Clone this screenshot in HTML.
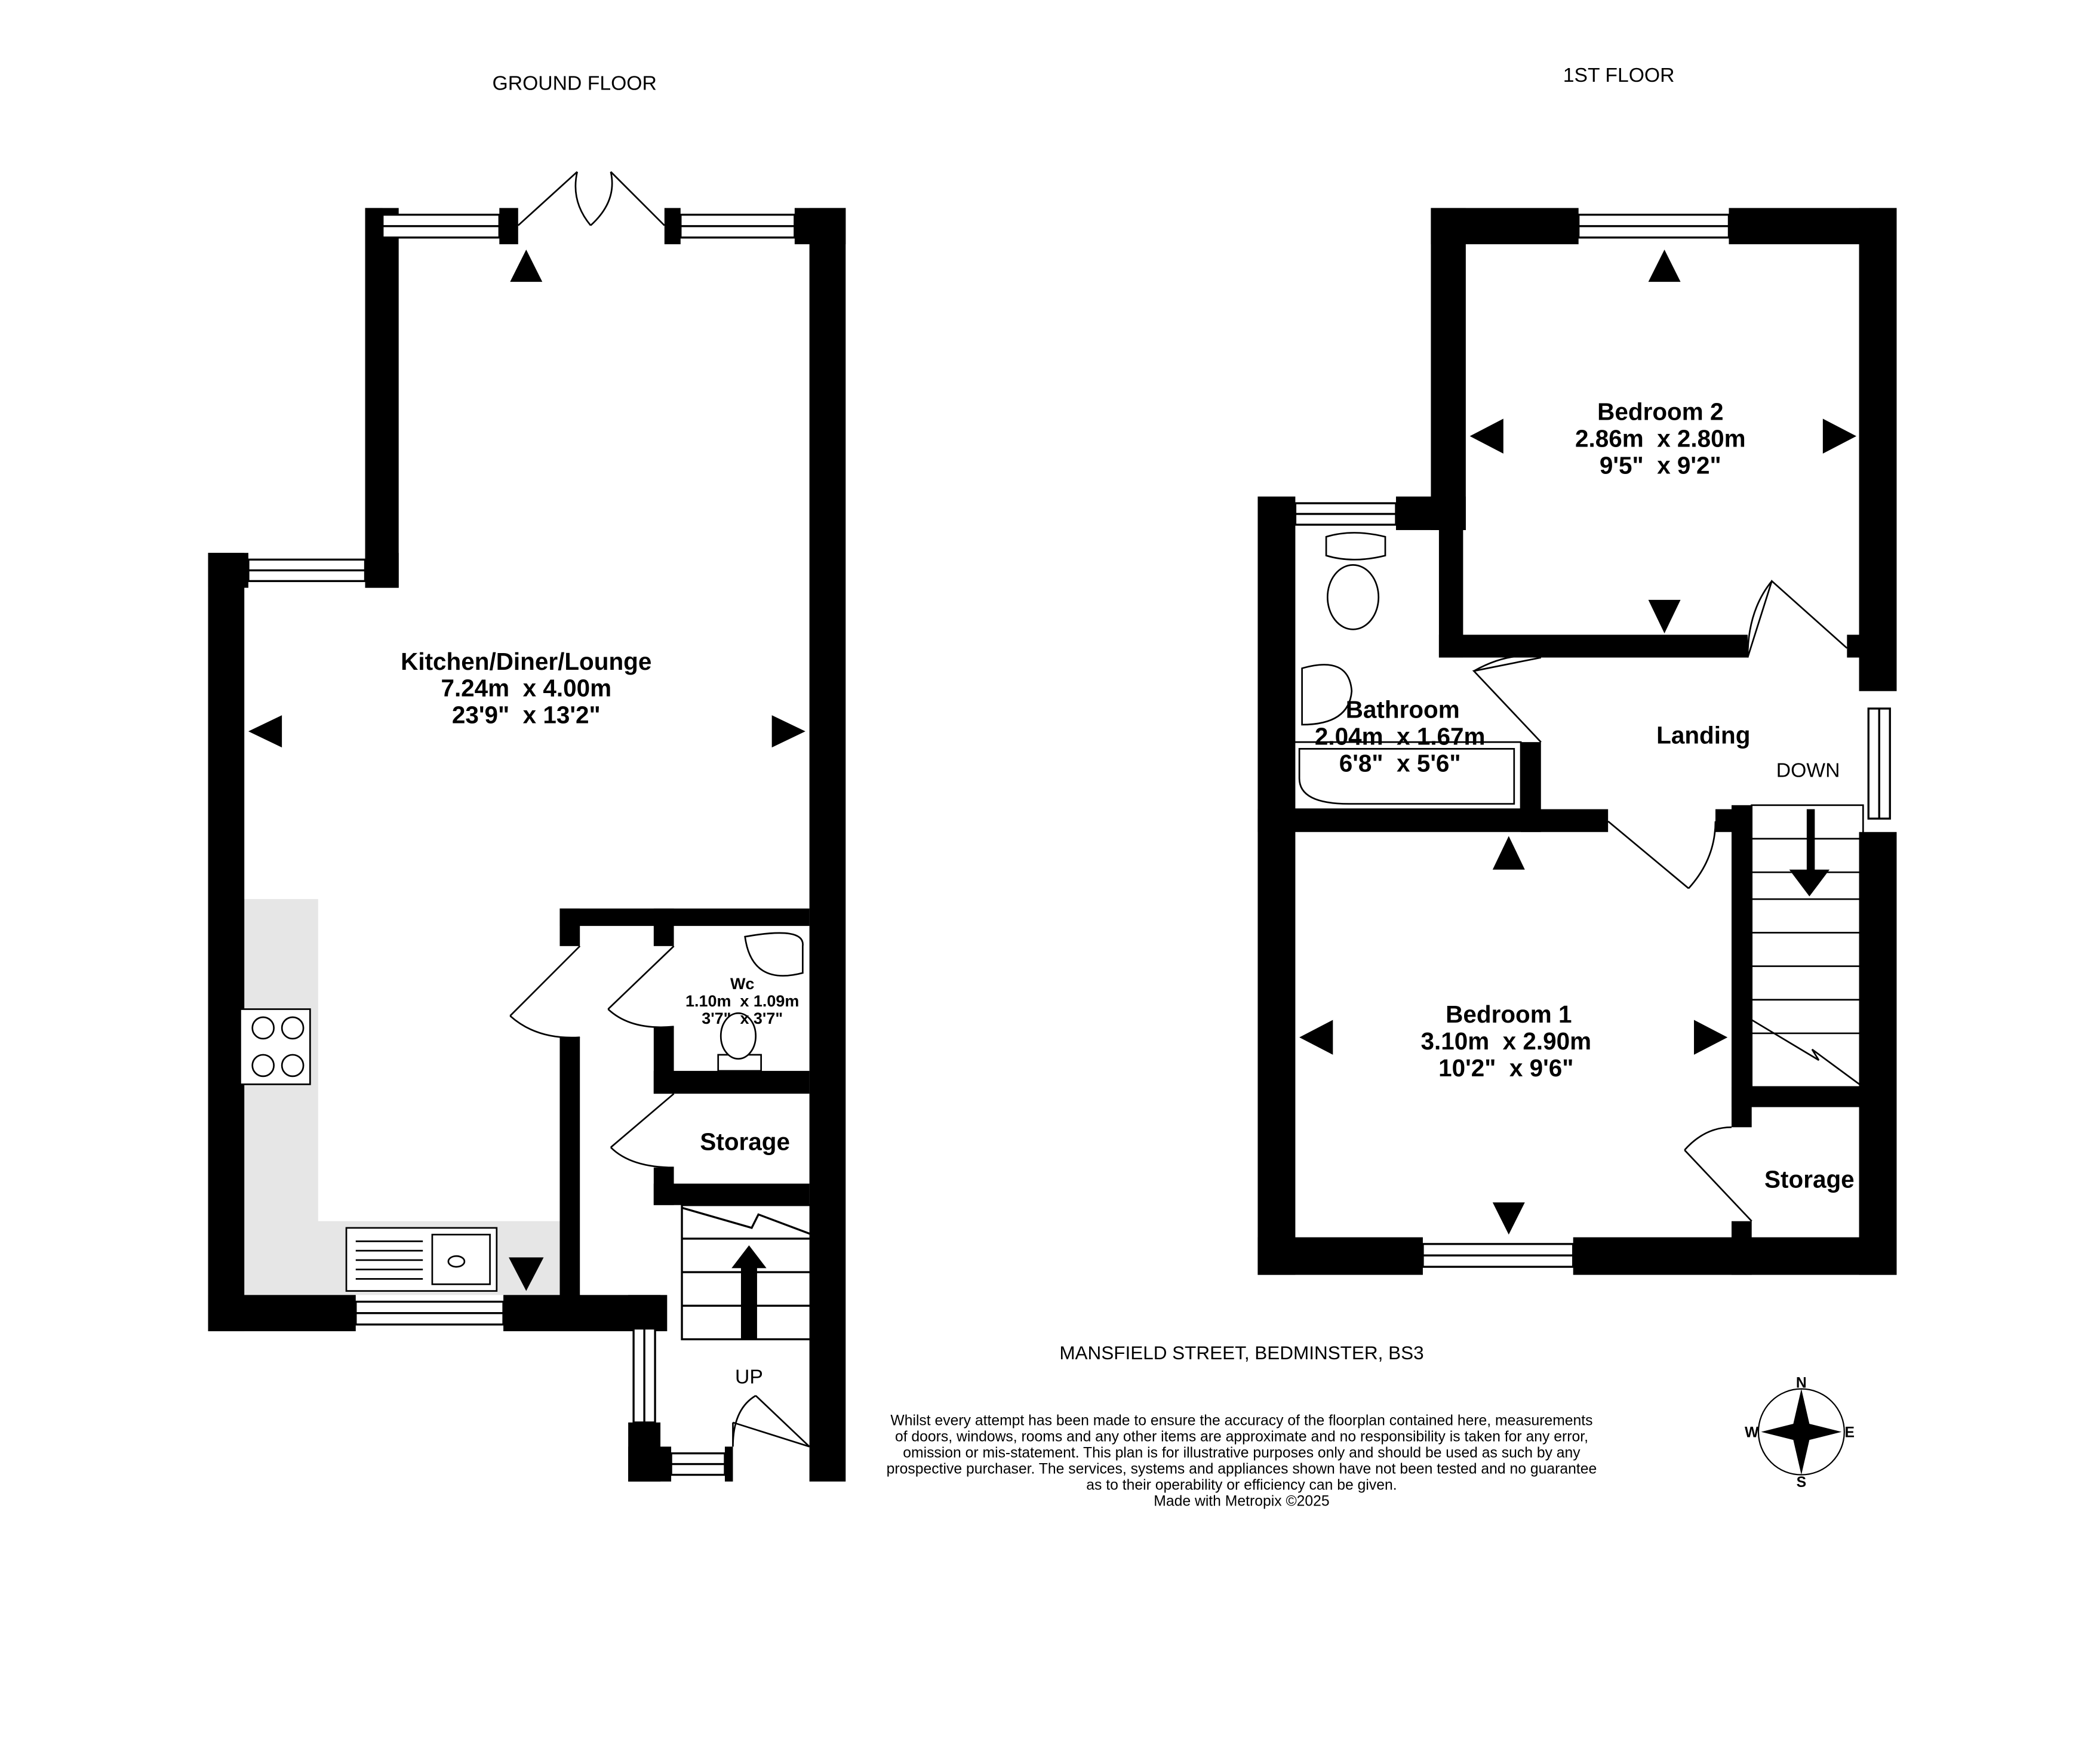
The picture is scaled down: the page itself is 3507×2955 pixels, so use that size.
<!DOCTYPE html>
<html><head><meta charset="utf-8"><style>
html,body{margin:0;padding:0;background:#fff}
svg{display:block}
text{font-family:"Liberation Sans",sans-serif;white-space:pre}
.l{font-weight:bold;font-size:18px;text-anchor:middle}
.s{font-size:15px;text-anchor:middle}
.d{font-size:11px;text-anchor:middle}
</style></head><body>
<svg width="3507" height="2955" viewBox="0 0 1560 1314.5" xmlns="http://www.w3.org/2000/svg" xml:space="preserve">
<rect width="1560" height="1314.5" fill="#fff"/>
<text x="428" y="67" class="s">GROUND FLOOR</text>
<text x="1206" y="61" class="s">1ST FLOOR</text>

<path d="M182 670H237V910H417V965H182Z" fill="#e6e6e6"/>
<g fill="#000">
<rect x="155" y="412" width="27" height="580"/>
<rect x="155" y="965" width="110" height="27"/>
<rect x="375" y="965" width="122" height="27"/>
<rect x="155" y="412" width="30" height="26"/>
<rect x="272" y="412" width="25" height="26"/>
<rect x="272" y="155" width="25" height="283"/>
<rect x="272" y="155" width="13" height="27"/>
<rect x="372" y="155" width="14" height="27"/>
<rect x="495" y="155" width="12" height="27"/>
<rect x="592" y="155" width="38" height="27"/>
<rect x="603" y="155" width="27" height="949"/>
<rect x="417" y="677" width="186" height="13"/>
<rect x="417" y="677" width="15" height="28"/>
<rect x="417" y="773" width="15" height="219"/>
<rect x="487" y="677" width="15" height="28"/>
<rect x="487" y="765" width="15" height="50"/>
<rect x="487" y="798" width="116" height="17"/>
<rect x="487" y="870" width="15" height="28"/>
<rect x="487" y="882" width="116" height="16"/>
<rect x="468" y="965" width="24" height="25"/>
<rect x="468" y="1060" width="24" height="44"/>
<rect x="468" y="1078" width="32" height="26"/>
<rect x="540" y="1078" width="6" height="26"/>
</g>
<g fill="#fff" stroke="#000" stroke-width="1.5">
<rect x="285" y="160" width="87" height="17"/><line x1="285" y1="168.5" x2="372" y2="168.5"/>
<rect x="507" y="160" width="85" height="17"/><line x1="507" y1="168.5" x2="592" y2="168.5"/>
<rect x="185" y="417" width="87" height="16"/><line x1="185" y1="425" x2="272" y2="425"/>
<rect x="265" y="970" width="110" height="17"/><line x1="265" y1="978.5" x2="375" y2="978.5"/>
<rect x="472" y="990" width="16" height="70"/><line x1="480" y1="990" x2="480" y2="1060"/>
<rect x="500" y="1083" width="40" height="16"/><line x1="500" y1="1091" x2="540" y2="1091"/>
</g>
<g fill="none" stroke="#000" stroke-width="1.2">
<path d="M386 168L430 128M430 128Q425 150 440 168"/>
<path d="M495 168L455 128M455 128Q460 150 440 168"/>
<path d="M432 705L380 757M380 757Q400 775 432 773"/>
<path d="M502 705L453 752M453 752Q470 768 502 765"/>
<path d="M502 815L455 855M455 855Q470 870 502 870"/>
<path d="M546 1078V1060M546 1060L603 1078M563 1040L603 1078M546 1078Q546 1050 563 1040"/>
</g>
<g fill="none" stroke="#000" stroke-width="1.5">
<rect x="508" y="898" width="97" height="100"/>
<line x1="508" y1="923" x2="605" y2="923"/><line x1="508" y1="948" x2="605" y2="948"/><line x1="508" y1="973" x2="605" y2="973"/>
<path d="M508 900L560 915L565 905L605 920"/>
</g>
<path d="M558 928L545 945H552V998H564V945H571Z" fill="#000"/>
<text x="558" y="1031" class="s">UP</text>
<g fill="#fff" stroke="#000" stroke-width="1.2">
<rect x="179" y="752" width="52" height="56"/>
<circle cx="196" cy="766" r="8"/><circle cx="218" cy="766" r="8"/><circle cx="196" cy="794" r="8"/><circle cx="218" cy="794" r="8"/>
<rect x="258" y="915" width="112" height="47"/>
<rect x="322" y="920" width="43" height="37"/>
<ellipse cx="340" cy="940" rx="6" ry="4"/>
<path d="M265 925H315M265 932H315M265 939H315M265 946H315M265 953H315"/>
<path d="M555 698Q600 690 598 705V725Q560 735 555 698Z"/>
<rect x="535" y="786" width="32" height="12"/>
<ellipse cx="550" cy="772" rx="13" ry="17"/>
</g>
<g fill="#000">
<path d="M380 210L392 186L404 210Z"/>
<path d="M210 533L185 545L210 557Z"/>
<path d="M575 533L600 545L575 557Z"/>
<path d="M379 937L392 962L405 937Z"/>
</g>
<text x="392" y="499" class="l">Kitchen/Diner/Lounge</text>
<text x="392" y="519" class="l">7.24m  x 4.00m</text>
<text x="392" y="539" class="l">23'9"  x 13'2"</text>
<text x="553" y="737" class="d" style="font-weight:bold;font-size:12px">Wc</text>
<text x="553" y="750" class="d" style="font-weight:bold;font-size:12px">1.10m  x 1.09m</text>
<text x="553" y="763" class="d" style="font-weight:bold;font-size:12px">3'7"  x 3'7"</text>
<text x="555" y="857" class="l">Storage</text>

<g fill="#000">
<rect x="1066" y="155" width="110" height="27"/>
<rect x="1288" y="155" width="125" height="27"/>
<rect x="1066" y="155" width="26" height="240"/>
<rect x="1385" y="155" width="28" height="360"/>
<rect x="1072" y="473" width="230" height="17"/>
<rect x="1072" y="395" width="18" height="95"/>
<rect x="1040" y="370" width="52" height="25"/>
<rect x="937" y="370" width="28" height="580"/>
<rect x="937" y="603" width="261" height="17"/>
<rect x="1278" y="603" width="27" height="17"/>
<rect x="1133" y="553" width="15" height="67"/>
<rect x="1385" y="620" width="28" height="330"/>
<rect x="1376" y="473" width="37" height="17"/>
<rect x="937" y="922" width="123" height="28"/>
<rect x="1172" y="922" width="241" height="28"/>
<rect x="1290" y="600" width="15" height="240"/>
<rect x="1290" y="810" width="100" height="15"/>
<rect x="1290" y="910" width="15" height="40"/>
</g>
<g fill="#fff" stroke="#000" stroke-width="1.5">
<rect x="1176" y="160" width="112" height="17"/><line x1="1176" y1="168.5" x2="1288" y2="168.5"/>
<rect x="965" y="375" width="75" height="16"/><line x1="965" y1="383" x2="1040" y2="383"/>
<rect x="1060" y="927" width="112" height="17"/><line x1="1060" y1="935.5" x2="1172" y2="935.5"/>
<rect x="1392" y="528" width="16" height="82"/><line x1="1400" y1="528" x2="1400" y2="610"/>
</g>
<g fill="none" stroke="#000" stroke-width="1.2">
<path d="M1302 490L1320 433L1376 483M1302 490Q1302 455 1320 433"/>
<path d="M1148 490L1098 500L1148 553M1098 500Q1125 485 1148 490"/>
<path d="M1198 612L1258 662M1258 662Q1278 640 1278 612"/>
<path d="M1305 910L1255 857M1255 857Q1270 840 1290 840"/>
<rect x="1305" y="600" width="83" height="210"/>
<path d="M1305 625H1388M1305 650H1388M1305 670H1388M1305 695H1388M1305 720H1388M1305 745H1388M1305 770H1388"/>
<path d="M1305 760L1355 790L1350 782L1388 810"/>
<path d="M963 553H1133V603H963Z"/>
<path d="M968 558H1128V599H1005Q968 599 968 580Z"/>
<ellipse cx="1008" cy="445" rx="19" ry="24"/>
<path d="M988 400Q1008 394 1032 400V414Q1008 420 988 414Z"/>
<path d="M970 498Q1005 488 1007 515Q1005 540 970 540Z"/>
</g>
<path d="M1346 603V648H1333L1348 668L1363 648H1352V603Z" fill="#000"/>
<g fill="#000">
<path d="M1228 210L1240 186L1252 210Z"/>
<path d="M1120 312L1095 325L1120 338Z"/>
<path d="M1358 312L1383 325L1358 338Z"/>
<path d="M1228 447L1240 472L1252 447Z"/>
<path d="M1112 648L1124 623L1136 648Z"/>
<path d="M993 760L968 773L993 786Z"/>
<path d="M1262 760L1287 773L1262 786Z"/>
<path d="M1112 896L1124 920L1136 896Z"/>
</g>
<text x="1237" y="313" class="l">Bedroom 2</text>
<text x="1237" y="333" class="l">2.86m  x 2.80m</text>
<text x="1237" y="353" class="l">9'5"  x 9'2"</text>
<text x="1045" y="535" class="l">Bathroom</text>
<text x="1043" y="555" class="l">2.04m  x 1.67m</text>
<text x="1043" y="575" class="l">6'8"  x 5'6"</text>
<text x="1269" y="554" class="l">Landing</text>
<text x="1347" y="579" class="s">DOWN</text>
<text x="1124" y="762" class="l">Bedroom 1</text>
<text x="1122" y="782" class="l">3.10m  x 2.90m</text>
<text x="1122" y="802" class="l">10'2"  x 9'6"</text>
<text x="1348" y="885" class="l">Storage</text>

<text x="925" y="1013" class="s" style="font-size:14px">MANSFIELD STREET, BEDMINSTER, BS3</text>
<g class="d">
<text x="925" y="1062">Whilst every attempt has been made to ensure the accuracy of the floorplan contained here, measurements</text>
<text x="925" y="1074">of doors, windows, rooms and any other items are approximate and no responsibility is taken for any error,</text>
<text x="925" y="1086">omission or mis-statement. This plan is for illustrative purposes only and should be used as such by any</text>
<text x="925" y="1098">prospective purchaser. The services, systems and appliances shown have not been tested and no guarantee</text>
<text x="925" y="1110">as to their operability or efficiency can be given.</text>
<text x="925" y="1122">Made with Metropix ©2025</text>
</g>
<circle cx="1342" cy="1067" r="32" fill="none" stroke="#000" stroke-width="1"/>
<path d="M1342 1035L1348 1061L1372 1067L1348 1073L1342 1099L1336 1073L1312 1067L1336 1061Z" fill="#000"/>
<text x="1342" y="1034" style="font-size:11px;font-weight:bold" text-anchor="middle">N</text>
<text x="1342" y="1108" style="font-size:11px;font-weight:bold" text-anchor="middle">S</text>
<text x="1305" y="1071" style="font-size:11px;font-weight:bold" text-anchor="middle">W</text>
<text x="1378" y="1071" style="font-size:11px;font-weight:bold" text-anchor="middle">E</text>
</svg>
</body></html>
